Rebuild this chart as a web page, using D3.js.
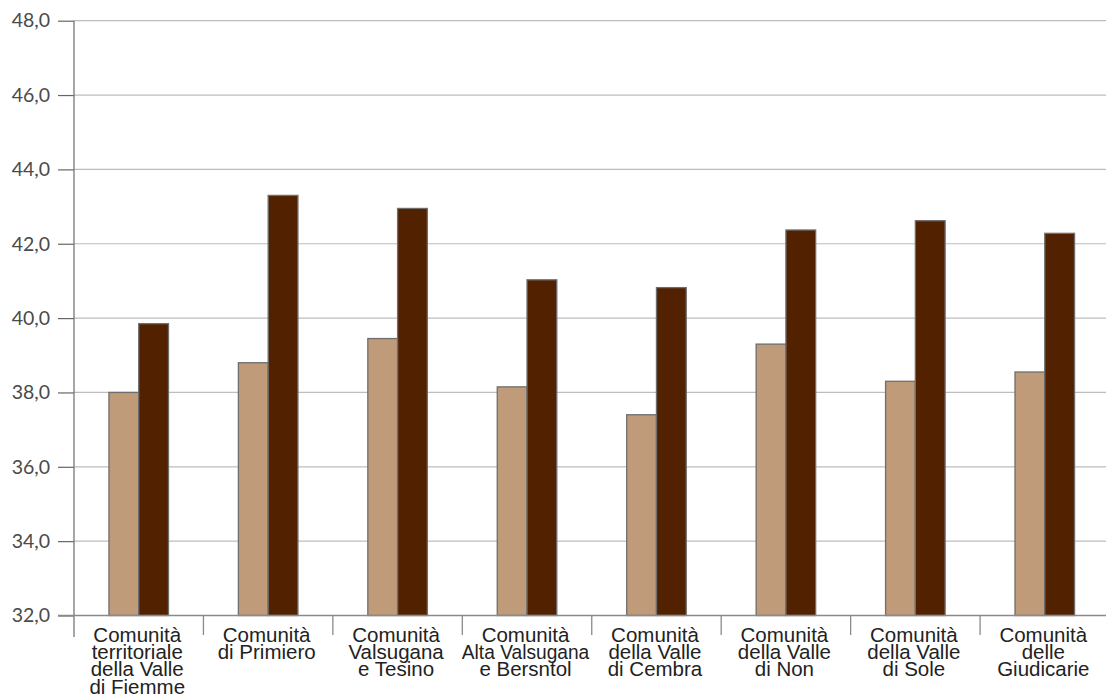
<!DOCTYPE html>
<html lang="en">
<head>
<meta charset="utf-8">
<title>Comunità</title>
<script src="https://d3js.org/d3.v7.min.js"></script>
<style>
body { margin: 0; background: #fff; }
.ylab { font-family: Lato, "Open Sans", sans-serif; font-size: 19.5px; fill: #4a4a4a; }
.xlab { font-family: "Liberation Sans", Arial, sans-serif; font-size: 20.5px; fill: #222; }
</style>
</head>
<body>
<div id="chart"></div>
<script>
var width = 1106, height = 698;

var categories = ["c1","c2","c3","c4","c5","c6","c7","c8"];
var labelLines = [
  ["Comunità","territoriale","della Valle","di Fiemme"],
  ["Comunità","di Primiero"],
  ["Comunità","Valsugana","e Tesino"],
  ["Comunità","Alta Valsugana","e Bersntol"],
  ["Comunità","della Valle","di Cembra"],
  ["Comunità","della Valle","di Non"],
  ["Comunità","della Valle","di Sole"],
  ["Comunità","delle","Giudicarie"]
];
var seriesA = [38.0, 38.8, 39.45, 38.15, 37.4, 39.3, 38.3, 38.55];
var seriesB = [39.85, 43.3, 42.95, 41.03, 40.82, 42.37, 42.62, 42.28];
var yTicks = [32, 34, 36, 38, 40, 42, 44, 46, 48];
var colors = ["#bf9b7a", "#522200"];

var svg = d3.select("#chart").append("svg")
  .attr("width", width).attr("height", height);

var x0 = d3.scaleBand().domain(categories).range([74, 1109.5]).padding(0);
var bw = x0.bandwidth();
var x1 = d3.scaleBand().domain([0, 1]).range([bw * 0.27, bw * 0.73]).padding(0);
var y = d3.scaleLinear().domain([32, 48]).range([615.5, 20.7]);

// gridlines
svg.append("g").selectAll("line")
  .data(yTicks.slice(1))
  .enter().append("line")
  .attr("x1", 74).attr("x2", width)
  .attr("y1", function(d){ return y(d); })
  .attr("y2", function(d){ return y(d); })
  .attr("stroke", "#bdbdbd").attr("stroke-width", 1.2);

// y axis
var yAxis = d3.axisLeft(y).tickValues(yTicks).tickSize(16).tickPadding(8)
  .tickFormat(function(d){ return d3.format(".1f")(d).replace(".", ","); });
var gy = svg.append("g").attr("transform", "translate(74,0)").call(yAxis);
gy.select(".domain").remove();
gy.selectAll(".tick line").attr("stroke", "#666").attr("stroke-width", 1.2);
gy.selectAll(".tick text").attr("class", "ylab").attr("font-size", null).attr("font-family", null).attr("fill", null);
svg.append("line")
  .attr("x1", 74).attr("x2", 74).attr("y1", y(48)).attr("y2", 637)
  .attr("stroke", "#777").attr("stroke-width", 1.3);

// bars
var groups = svg.append("g").selectAll("g")
  .data(categories)
  .enter().append("g")
  .attr("transform", function(d){ return "translate(" + x0(d) + ",0)"; });

groups.selectAll("rect")
  .data(function(d, i){ return [seriesA[i], seriesB[i]]; })
  .enter().append("rect")
  .attr("x", function(d, j){ return x1(j); })
  .attr("width", x1.bandwidth())
  .attr("y", function(d){ return y(d); })
  .attr("height", function(d){ return y(32) - y(d); })
  .attr("fill", function(d, j){ return colors[j]; })
  .attr("stroke", "#6e6e6e").attr("stroke-width", 1.3);

// x axis
svg.append("line")
  .attr("x1", 58).attr("x2", width).attr("y1", y(32)).attr("y2", y(32))
  .attr("stroke", "#8a8a8a").attr("stroke-width", 1.3);
svg.append("g").selectAll("line")
  .data(categories.slice(1))
  .enter().append("line")
  .attr("x1", function(d){ return x0(d); })
  .attr("x2", function(d){ return x0(d); })
  .attr("y1", y(32)).attr("y2", 635)
  .attr("stroke", "#8a8a8a").attr("stroke-width", 1.3);

// x labels (squeeze any line wider than the band)
var maxW = bw - 2;
svg.append("g").selectAll("text")
  .data(categories)
  .enter().append("text")
  .attr("class", "xlab")
  .attr("text-anchor", "middle")
  .each(function(d, i){
    var t = d3.select(this);
    labelLines[i].forEach(function(s, k){
      var ts = t.append("tspan")
        .attr("x", x0(d) + bw / 2 - 1.5)
        .attr("y", 641.7 + k * 17.3)
        .text(s);
      if (ts.node().getComputedTextLength() > maxW) {
        ts.attr("textLength", maxW).attr("lengthAdjust", "spacingAndGlyphs");
      }
    });
  });
</script>
</body>
</html>
